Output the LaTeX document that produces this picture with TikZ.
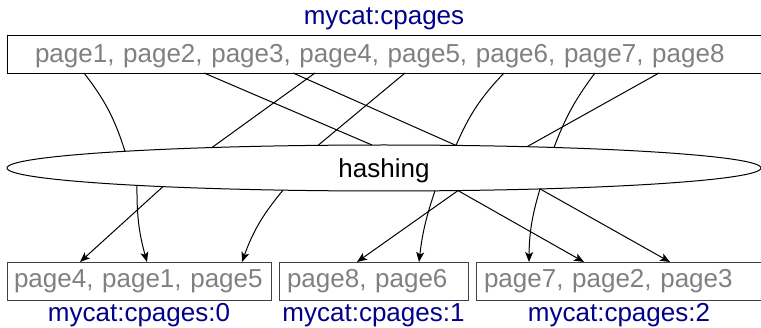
\documentclass[tikz,border=0pt]{standalone}
\usepackage{fontspec}
\setmainfont{Liberation Sans}
\usetikzlibrary{arrows.meta,shapes.geometric}
\definecolor{catblue}{RGB}{0,0,139}
\definecolor{pagegray}{RGB}{128,128,128}
\tikzset{
	pagebox/.style={draw=black!75,line width=0.9pt,text=pagegray,minimum height=38pt,inner xsep=8pt,inner ysep=0pt,align=left,text height=19pt,text depth=5pt},
	catname/.style={text=catblue,anchor=base},
	hashlink/.style={line width=1pt},
	hasharrow/.style={line width=1pt,-{Stealth[length=10pt,width=8pt,inset=2.5pt]}}
}
\begin{document}
\begin{tikzpicture}[x=1pt,y=1pt,font=\fontsize{26}{30}\selectfont]
	\useasboundingbox (0,0) rectangle (761,327);
	% the collection and its pages
	\node[catname] (cat) at (384,302) {mycat:cpages};
	\node[pagebox,draw=black,inner xsep=28pt,text width=699pt,text height=23pt] (top) at (384.5,273) {page1, page2, page3, page4, page5, page6, page7, page8};
	\node[draw,ellipse,line width=1pt,minimum width=754pt,minimum height=46pt,inner sep=0pt,text height=25pt,text depth=5pt] (hash) at (384,159) {hashing};
	% the three chunks
	\node[pagebox,inner xsep=7pt,text width=250pt] (c0) at (139,46) {page4, page1, page5};
	\node[pagebox,text width=173pt] (c1) at (373.5,46) {page8, page6};
	\node[pagebox,text width=270pt] (c2) at (619,46) {page7, page2, page3};
	\node[catname] (n0) at (139,5.3) {mycat:cpages:0};
	\node[catname] (n1) at (373.5,5.3) {mycat:cpages:1};
	\node[catname] (n2) at (619,5.3) {mycat:cpages:2};
	% where each page goes into and comes out of the hashing
	\foreach \n/\x/\ex/\ey in {1/84/125/175.7,2/204/372/182,3/293/456/181.6,4/315/212/179.5,5/405/318/181.6,6/504/456/181.6,7/595/554/179.5,8/659/527/180.3}{
		\coordinate (s\n) at (\x,254);
		\coordinate (e\n) at (\ex,\ey);
	}
	\foreach \n/\x/\y/\dx in {1/137/141.6/147,2/458/136.4/584,3/540/138.1/670,4/163/140.4/80,5/283/136.8/242,6/435/136.2/419,7/540/138.1/529,8/458/136.4/357}{
		\coordinate (x\n) at (\x,\y);
		\coordinate (d\n) at (\dx,65);
	}
	\draw[hashlink] (s1) to[bend left=10] (e1);
	\foreach \n in {2,3,4,5,8}
		\draw[hashlink] (s\n) -- (e\n);
	\draw[hashlink] (s6) to[bend right=10] (e6);
	\draw[hashlink] (s7) to[bend right=8] (e7);
	% out to the chunks
	\foreach \n in {2,3,4,8}
		\draw[hasharrow] (x\n) -- (d\n);
	\draw[hasharrow] (x1) to[bend right=8] (d1);
	\draw[hasharrow] (x5) to[bend right=10] (d5);
	\draw[hasharrow] (x6) to[bend right=6] (d6);
	\draw[hasharrow] (x7) to[bend right=8] (d7);
\end{tikzpicture}
\end{document}
